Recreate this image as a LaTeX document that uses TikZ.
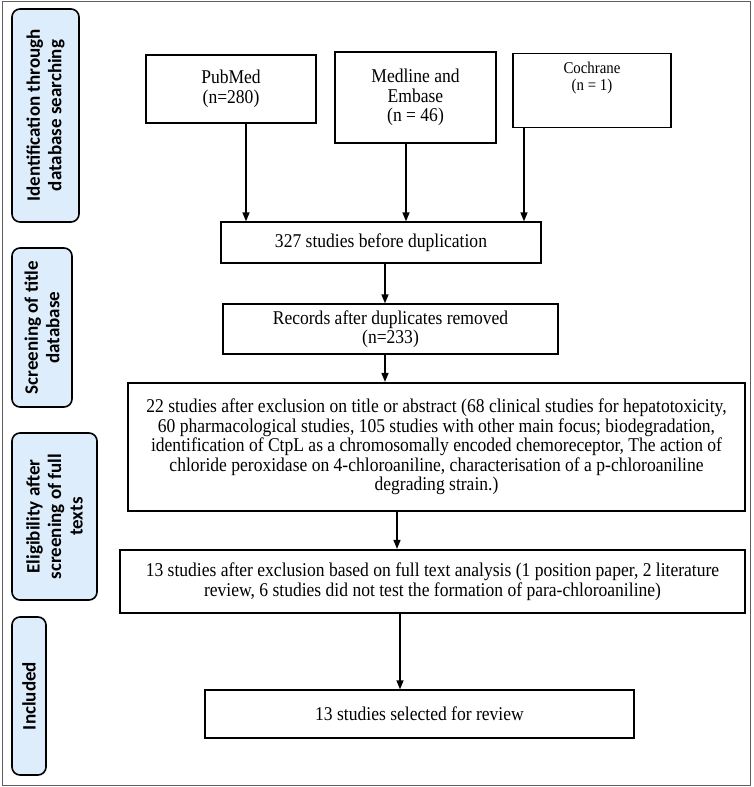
\documentclass[tikz,border=0pt]{standalone}
\usepackage{fontspec}
\setmainfont{Liberation Serif}[FakeStretch=0.9]
\newfontfamily\sidefont{Carlito}
\usetikzlibrary{arrows.meta}

\definecolor{sideblue}{RGB}{221,237,252}
\definecolor{framegray}{RGB}{95,95,95}

\begin{document}
\begin{tikzpicture}[x=1pt,y=-1pt,
    box/.style={draw, line width=1.3pt, align=center, inner sep=0pt,
        font=\fontsize{19.5}{19.5}\selectfont},
    thickbox/.style={box, line width=2.2pt},
    sidebox/.style={draw, line width=1.6pt, rounded corners=8pt, fill=sideblue,
        rotate=90, align=center, inner sep=0pt,
        font=\sidefont\bfseries\fontsize{19}{21.5}\selectfont},
    arr/.style={-{Triangle[length=9pt,width=7pt]}, line width=1.5pt}]
    \useasboundingbox (0,0) rectangle (753,787);
    \draw [framegray, line width=1pt] (2,1.5) rectangle (750.5,785);

    % stages on the left
    \node [sidebox, minimum width=213pt, minimum height=67pt] (sideid) at (45.5,115.5)
        {Identification through\\database searching};
    \node [sidebox, minimum width=159pt, minimum height=60pt] (sidescr) at (42,327.5)
        {Screening of title\\database};
    \node [sidebox, minimum width=167pt, minimum height=85pt] (sideelig) at (54.5,516.5)
        {Eligibility after\\screening of full\\texts};
    \node [sidebox, minimum width=158pt, minimum height=34pt] (sideinc) at (29,696)
        {Included};

    % sources
    \node [box, minimum width=170pt, minimum height=68pt] (pubmed) at (231,89)
        {PubMed\\(n=280)};
    \node [thickbox, minimum width=161pt, minimum height=91pt] (medline) at (415.5,97.5)
        {Medline and\\Embase\\(n = 46)};
    \node [box, anchor=north, minimum width=158pt, inner ysep=9pt,
        text height=28pt, text depth=28pt,
        font=\fontsize{16.5}{17}\selectfont] (cochrane) at (592,53)
        {Cochrane\\(n = 1)};

    % flow
    \node [box, minimum width=320pt, minimum height=41pt] (dup) at (381,242.5)
        {327 studies before duplication};
    \node [box, minimum width=335pt, minimum height=50pt] (rec) at (390.5,329)
        {Records after duplicates removed\\(n=233)};
    \node [thickbox, minimum width=617pt, minimum height=128pt] (excl) at (436.5,447)
        {22 studies after exclusion on title or abstract (68 clinical studies for hepatotoxicity,\\
        60 pharmacological studies, 105 studies with other main focus; biodegradation,\\
        identification of CtpL as a chromosomally encoded chemoreceptor, The action of\\
        chloride peroxidase on 4-chloroaniline, characterisation of a p-chloroaniline\\
        degrading strain.)};
    \node [thickbox, minimum width=625pt, minimum height=63pt] (full) at (432.5,581.5)
        {13 studies after exclusion based on full text analysis (1 position paper, 2 literature\\
        review, 6 studies did not test the formation of para-chloroaniline)};
    \node [box, minimum width=429pt, minimum height=48pt] (incl) at (419.5,714)
        {13 studies selected for review};

    \draw [arr] ([xshift=15pt]pubmed.south) -- ([xshift=15pt]pubmed.south |- dup.north);
    \draw [arr] ([xshift=-9.5pt]medline.south) -- ([xshift=-9.5pt]medline.south |- dup.north);
    \draw [arr] ([xshift=-68pt]cochrane.south) -- ([xshift=-68pt]cochrane.south |- dup.north);
    \draw [arr] ([xshift=4pt]dup.south) -- ([xshift=4pt]dup.south |- rec.north);
    \draw [arr] ([xshift=-5.5pt]rec.south) -- ([xshift=-5.5pt]rec.south |- excl.north);
    \draw [arr] ([xshift=-39.5pt]excl.south) -- ([xshift=-39.5pt]excl.south |- full.north);
    \draw [arr] ([xshift=-32.5pt]full.south) -- ([xshift=-32.5pt]full.south |- incl.north);
\end{tikzpicture}
\end{document}
